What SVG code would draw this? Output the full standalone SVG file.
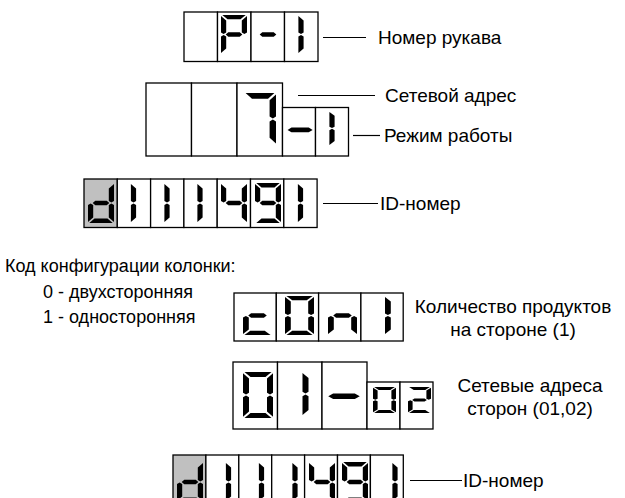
<svg xmlns="http://www.w3.org/2000/svg" xmlns:xlink="http://www.w3.org/1999/xlink" width="625" height="498" viewBox="0 0 625 498">
<style>
.cell{fill:#fff;stroke:#000;stroke-width:1.3}
.grey{fill:#c0c0c0;stroke:#000;stroke-width:1.3}
.seg{fill:#000}
.lbl{font-family:"Liberation Sans",Arial,sans-serif;font-size:19px;fill:#000}
.sm{font-size:18px}
.ln{stroke:#000;stroke-width:1.2;fill:none}
</style>
<defs>
<polygon id="sa" class="seg" points="1,0 19,0 15,4 5,4"/>
<polygon id="sb" class="seg" points="20,1 20,16.2 18,17.6 16,16.2 16,5"/>
<polygon id="sc" class="seg" points="16,19.8 18,18.4 20,19.8 20,35 16,31"/>
<polygon id="sd" class="seg" points="5,32 15,32 19,36 1,36"/>
<polygon id="se" class="seg" points="0,19.8 2,18.4 4,19.8 4,31 0,35"/>
<polygon id="sf" class="seg" points="0,1 4,5 4,16.2 2,17.6 0,16.2"/>
<polygon id="sg" class="seg" points="3.6,18 5.6,16 14.4,16 16.4,18 14.4,20 5.6,20"/>
<g id="dP"><use href="#sa"/><use href="#sb"/><use href="#sf"/><use href="#sg"/><use href="#se"/></g>
<g id="dDash"><use href="#sg"/></g>
<g id="d1"><use href="#sf"/><use href="#se"/></g>
<g id="d7"><use href="#sa"/><use href="#sb"/><use href="#sc"/></g>
<g id="dd"><use href="#sb"/><use href="#sc"/><use href="#sd"/><use href="#se"/><use href="#sg"/></g>
<g id="d4"><use href="#sf"/><use href="#sg"/><use href="#sb"/><use href="#sc"/></g>
<g id="d9"><use href="#sa"/><use href="#sb"/><use href="#sc"/><use href="#sd"/><use href="#sf"/><use href="#sg"/></g>
<g id="dc"><use href="#sg"/><use href="#se"/><use href="#sd"/></g>
<g id="d0"><use href="#sa"/><use href="#sb"/><use href="#sc"/><use href="#sd"/><use href="#se"/><use href="#sf"/></g>
<g id="dn"><use href="#sg"/><use href="#se"/><use href="#sc"/></g>
<g id="d2"><use href="#sa"/><use href="#sb"/><use href="#sg"/><use href="#se"/><use href="#sd"/></g>
</defs>

<g id="display-hose">
<rect class="cell" x="184" y="12" width="33.5" height="49.5"/>
<rect class="cell" x="217.5" y="12" width="33.5" height="49.5"/>
<rect class="cell" x="251" y="12" width="33.5" height="49.5"/>
<rect class="cell" x="284.5" y="12" width="33.5" height="49.5"/>
<use href="#dP" transform="translate(221,15) scale(1.3,1.083)"/>
<use href="#dDash" transform="translate(255,15) scale(1.3,1.083)"/>
<use href="#d1" transform="translate(298.4,15) scale(1.3,1.083)"/>
</g>

<g id="display-address">
<rect class="cell" x="146" y="83" width="45.5" height="73"/>
<rect class="cell" x="191.5" y="83" width="45.5" height="73"/>
<rect class="cell" x="237" y="83" width="45.5" height="73"/>
<rect class="cell" x="282.5" y="107.5" width="33" height="48.5"/>
<rect class="cell" x="315.5" y="107.5" width="33" height="48.5"/>
<use href="#d7" transform="translate(244,93) scale(1.6,1.444)"/>
<use href="#dDash" transform="translate(280.5,109.2) scale(1.96,1.15)"/>
<use href="#d1" transform="translate(329.4,111) scale(1.3,0.97)"/>
</g>

<g id="display-id1">
<rect class="grey" x="84" y="179" width="33.3" height="48.5"/>
<rect class="cell" x="117.3" y="179" width="33.3" height="48.5"/>
<rect class="cell" x="150.6" y="179" width="33.3" height="48.5"/>
<rect class="cell" x="183.9" y="179" width="33.3" height="48.5"/>
<rect class="cell" x="217.2" y="179" width="33.3" height="48.5"/>
<rect class="cell" x="250.5" y="179" width="33.3" height="48.5"/>
<rect class="cell" x="283.8" y="179" width="33.3" height="48.5"/>
<use href="#dd" transform="translate(88,183) scale(1.3,1.111)"/>
<use href="#d1" transform="translate(130.9,183) scale(1.3,1.111)"/>
<use href="#d1" transform="translate(164.4,183) scale(1.3,1.111)"/>
<use href="#d1" transform="translate(197.4,183) scale(1.3,1.111)"/>
<use href="#d4" transform="translate(221,183) scale(1.3,1.111)"/>
<use href="#d9" transform="translate(255,183) scale(1.3,1.111)"/>
<use href="#d1" transform="translate(297.9,183) scale(1.3,1.111)"/>
</g>

<g id="display-config">
<rect class="cell" x="234" y="293" width="42.3" height="48"/>
<rect class="cell" x="276.3" y="293" width="42.3" height="48"/>
<rect class="cell" x="318.6" y="293" width="42.3" height="48"/>
<rect class="cell" x="360.9" y="293" width="42.3" height="48"/>
<use href="#dc" transform="translate(243,296) scale(1.45,1.083)"/>
<use href="#d0" transform="translate(285,296) scale(1.45,1.083)"/>
<use href="#dn" transform="translate(328,296) scale(1.45,1.083)"/>
<use href="#d1" transform="translate(385,296) scale(1.45,1.083)"/>
</g>

<g id="display-sides">
<rect class="cell" x="233" y="362" width="44.5" height="67"/>
<rect class="cell" x="277.5" y="362" width="44.5" height="67"/>
<rect class="cell" x="322" y="362" width="45" height="67"/>
<rect class="cell" x="367" y="382" width="33" height="47"/>
<rect class="cell" x="400" y="382" width="33" height="47"/>
<use href="#d0" transform="translate(243,372) scale(1.5,1.278)"/>
<use href="#d1" transform="translate(302.5,371.8) scale(1.5,1.235)"/>
<use href="#dDash" transform="translate(319.4,371) scale(2.46,1.4)"/>
<use href="#d0" transform="translate(373,387) scale(1.15,0.722)"/>
<use href="#d2" transform="translate(408,387) scale(1.15,0.722)"/>
</g>

<g id="display-id2">
<rect class="grey" x="173" y="455" width="32.9" height="50"/>
<rect class="cell" x="205.9" y="455" width="32.9" height="50"/>
<rect class="cell" x="238.8" y="455" width="32.9" height="50"/>
<rect class="cell" x="271.7" y="455" width="32.9" height="50"/>
<rect class="cell" x="304.6" y="455" width="32.9" height="50"/>
<rect class="cell" x="337.5" y="455" width="32.9" height="50"/>
<rect class="cell" x="370.4" y="455" width="32.9" height="50"/>
<use href="#dd" transform="translate(177,462) scale(1.3,1.111)"/>
<use href="#d1" transform="translate(225.9,462) scale(1.3,1.111)"/>
<use href="#d1" transform="translate(258.9,462) scale(1.3,1.111)"/>
<use href="#d1" transform="translate(292.4,462) scale(1.3,1.111)"/>
<use href="#d4" transform="translate(309,462) scale(1.3,1.111)"/>
<use href="#d9" transform="translate(342,462) scale(1.3,1.111)"/>
<use href="#d1" transform="translate(392.4,462) scale(1.3,1.111)"/>
</g>

<g id="connectors">
<line class="ln" x1="323" y1="37.5" x2="366" y2="37.5"/>
<line class="ln" x1="298" y1="95.5" x2="375" y2="95.5"/>
<line class="ln" x1="353" y1="135.5" x2="380" y2="135.5"/>
<line class="ln" x1="323" y1="203.5" x2="378" y2="203.5"/>
<line class="ln" x1="410" y1="480.5" x2="462" y2="480.5"/>
</g>

<g id="labels">
<text class="lbl" x="378" y="44">Номер рукава</text>
<text class="lbl" x="385" y="102">Сетевой адрес</text>
<text class="lbl" x="384" y="142">Режим работы</text>
<text class="lbl" x="380" y="210">ID-номер</text>
<text class="lbl sm" x="5" y="272">Код конфигурации колонки:</text>
<text class="lbl sm" x="43" y="298">0 - двухсторонняя</text>
<text class="lbl sm" x="43" y="323">1 - односторонняя</text>
<text class="lbl" x="513" y="313" text-anchor="middle">Количество продуктов</text>
<text class="lbl" x="513" y="336" text-anchor="middle">на стороне (1)</text>
<text class="lbl" x="530" y="392" text-anchor="middle">Сетевые адреса</text>
<text class="lbl" x="530" y="415" text-anchor="middle">сторон (01,02)</text>
<text class="lbl" x="463" y="487">ID-номер</text>
</g>
</svg>
